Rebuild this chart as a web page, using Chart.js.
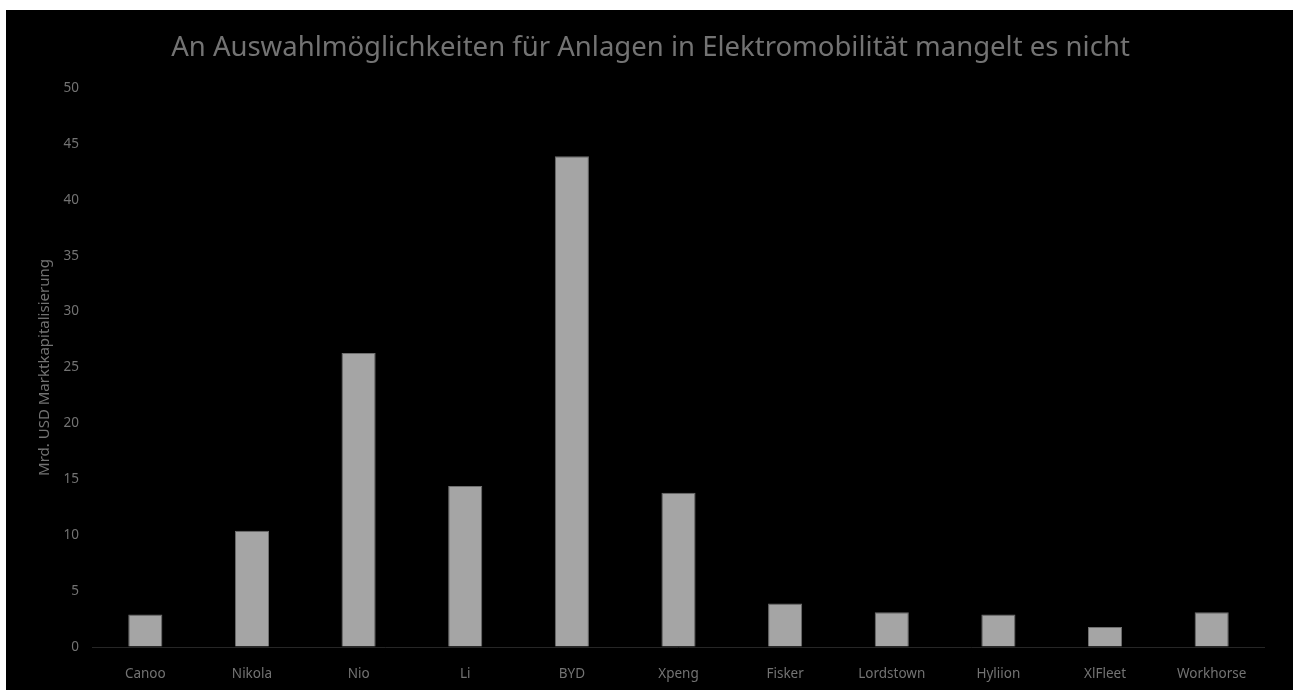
<!DOCTYPE html>
<html>
<head>
<meta charset="utf-8">
<script src="https://cdn.jsdelivr.net/npm/chart.js@4"></script>
<style>
    body { margin: 0; background: #ffffff; }
    #wrap { position: absolute; left: 6px; top: 10px; width: 1287px; height: 680px; background: #000000; }
</style>
</head>
<body>
<div id="wrap"><canvas id="myChart"></canvas></div>
<script>
// Daten des Diagramms
const firmen = ['Canoo', 'Nikola', 'Nio', 'Li', 'BYD', 'Xpeng', 'Fisker', 'Lordstown', 'Hyliion', 'XlFleet', 'Workhorse'];
const marktkapitalisierung = [2.9, 10.4, 26.3, 14.4, 43.9, 13.8, 3.9, 3.1, 2.9, 1.8, 3.1];
const yTicks = [0, 5, 10, 15, 20, 25, 30, 35, 40, 45, 50];

const textFarbe = '#737373';
const schrift = 'Noto Sans';

const ctx = document.getElementById('myChart').getContext('2d');

const myChart = new Chart(ctx, {
    type: 'bar',
    data: {
        labels: firmen,
        datasets: [{
            data: marktkapitalisierung,
            backgroundColor: '#a5a5a5',
            borderColor: '#6f6f6f',
            borderWidth: 1,
            categoryPercentage: 1,
            barPercentage: 0.32
        }]
    },
    options: {
        responsive: true,
        maintainAspectRatio: false,
        animation: false,
        layout: { padding: { left: 30, right: 28, top: 0, bottom: 0 } },
        plugins: {
            legend: { display: false },
            tooltip: { enabled: false },
            title: {
                display: true,
                text: 'An Auswahlmöglichkeiten für Anlagen in Elektromobilität mangelt es nicht',
                color: textFarbe,
                font: { family: schrift, size: 27.5, weight: 'normal' },
                padding: { top: 22, bottom: 23 }
            }
        },
        scales: {
            x: {
                grid: { display: false },
                border: { display: false },
                ticks: {
                    color: textFarbe,
                    font: { family: schrift, size: 13.5 },
                    padding: 11,
                    maxRotation: 0
                },
                afterFit: function(scale) { scale.height = 43; }
            },
            y: {
                min: 0,
                max: 50,
                afterBuildTicks: function(scale) {
                    scale.ticks = yTicks.map(v => ({ value: v }));
                },
                grid: {
                    drawTicks: false,
                    color: c => c.tick && c.tick.value === 0 ? '#262626' : 'transparent'
                },
                border: { display: false },
                ticks: {
                    color: textFarbe,
                    font: { family: schrift, size: 13.5 },
                    padding: 13
                },
                title: {
                    display: true,
                    text: 'Mrd. USD Marktkapitalisierung',
                    color: textFarbe,
                    font: { family: schrift, size: 15 },
                    padding: { top: 0, bottom: 0 }
                },
                afterFit: function(scale) { scale.width = 56; }
            }
        }
    }
});
</script>
</body>
</html>
